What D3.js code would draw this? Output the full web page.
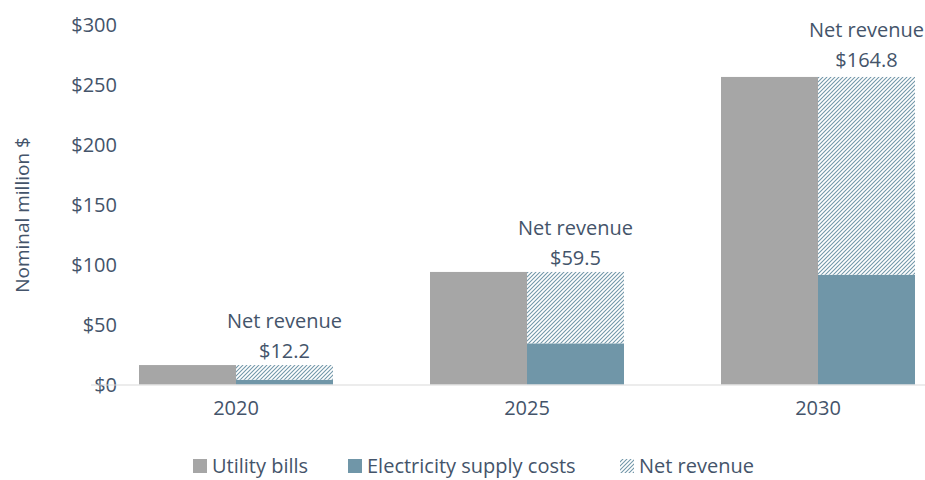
<!DOCTYPE html>
<html>
<head>
<meta charset="utf-8">
<script src="https://cdn.jsdelivr.net/npm/d3@7"></script>
<style>
  body { margin: 0; background: #fff; }
  text { font-family: "Open Sans", "Noto Sans", sans-serif; fill: #44546a; }
</style>
</head>
<body>
<div id="root"></div>
<script>
const years = ["2020", "2025", "2030"];
const utilityBills = [16.2, 93.8, 256.3];
const supplyCosts = [4.0, 34.3, 91.5];
const netRevenue = [12.2, 59.5, 164.8];
const yTicks = [0, 50, 100, 150, 200, 250, 300];
const seriesNames = ["Utility bills", "Electricity supply costs", "Net revenue"];

const W = 925, H = 480;
const grey = "#a6a6a6", teal = "#7096a8";

const svg = d3.select("#root").append("svg")
  .attr("width", W).attr("height", H);

// hatch pattern for net revenue
const defs = svg.append("defs");
const pat = defs.append("pattern")
  .attr("id", "hatch")
  .attr("patternUnits", "userSpaceOnUse")
  .attr("width", 4).attr("height", 4);
pat.append("rect").attr("width", 4).attr("height", 4).attr("fill", "#fff");
pat.append("path")
  .attr("d", "M-1,1 l2,-2 M0,4 l4,-4 M3,5 l2,-2")
  .attr("stroke", teal).attr("stroke-width", 1.05);

const x = d3.scaleBand().domain(years).range([90.5, 963.5])
  .paddingInner(1 / 3).paddingOuter(1 / 6);
const sub = d3.scaleBand().domain(["bills", "costs"]).range([0, x.bandwidth()]);
const y = d3.scaleLinear().domain([0, 300]).range([384.5, 24.5]);

// y axis labels
const yAxis = d3.axisLeft(y).tickValues(yTicks).tickSize(0).tickPadding(0)
  .tickFormat(d => "$" + d);
svg.append("g").attr("transform", "translate(117,0)").call(yAxis)
  .call(g => g.select(".domain").remove())
  .selectAll("text").style("font-size", "20px").attr("fill", "#44546a")
  .attr("dy", "0.35em");

svg.append("text")
  .attr("transform", "translate(22,215) rotate(-90)")
  .attr("text-anchor", "middle").attr("dy", "0.35em")
  .style("font-size", "19px").text("Nominal million $");

// bars
const data = years.map((yr, i) => ({ yr, bills: utilityBills[i], costs: supplyCosts[i], net: netRevenue[i] }));
const g = svg.append("g");

g.selectAll(".bill").data(data).enter().append("rect")
  .attr("x", d => x(d.yr) + sub("bills"))
  .attr("y", d => y(d.bills))
  .attr("width", sub.bandwidth())
  .attr("height", d => y(0) - y(d.bills))
  .attr("fill", grey);

g.selectAll(".cost").data(data).enter().append("rect")
  .attr("x", d => x(d.yr) + sub("costs"))
  .attr("y", d => y(d.costs))
  .attr("width", sub.bandwidth())
  .attr("height", d => y(0) - y(d.costs))
  .attr("fill", teal);

g.selectAll(".net").data(data).enter().append("rect")
  .attr("x", d => x(d.yr) + sub("costs"))
  .attr("y", d => y(d.costs + d.net))
  .attr("width", sub.bandwidth())
  .attr("height", d => y(d.costs) - y(d.costs + d.net))
  .attr("fill", "url(#hatch)");

// x axis
const xAxis = d3.axisBottom(x).tickSize(0).tickPadding(16);
svg.append("g").attr("transform", `translate(0,${y(0)})`).call(xAxis)
  .call(a => a.select(".domain").attr("stroke", "#d9d9d9"))
  .selectAll("text").style("font-size", "20px").attr("fill", "#44546a");

// net revenue annotations
const lab = g.selectAll(".lab").data(data).enter().append("g")
  .attr("transform", d => `translate(${x(d.yr) + sub("costs") + sub.bandwidth() / 2},${y(d.costs + d.net)})`);
lab.append("text").attr("text-anchor", "middle").attr("y", d => d.net > 100 ? -10 : -7)
  .style("font-size", "20px").text(d => "$" + d.net.toFixed(1));
lab.append("text").attr("text-anchor", "middle").attr("y", d => d.net > 100 ? -40 : -37)
  .style("font-size", "20px").text("Net revenue");

// legend
const legendItems = [
  { name: seriesNames[0], fill: grey, x: 193 },
  { name: seriesNames[1], fill: teal, x: 348 },
  { name: seriesNames[2], fill: "url(#hatch)", x: 620 }
];
const leg = svg.append("g").attr("transform", "translate(0,466)");
const li = leg.selectAll("g").data(legendItems).enter().append("g")
  .attr("transform", d => `translate(${d.x},0)`);
li.append("rect").attr("x", 0).attr("y", -7).attr("width", 14).attr("height", 14)
  .attr("fill", d => d.fill);
li.append("text").attr("x", 19).attr("dy", "0.35em")
  .style("font-size", "20px").text(d => d.name);
</script>
</body>
</html>
